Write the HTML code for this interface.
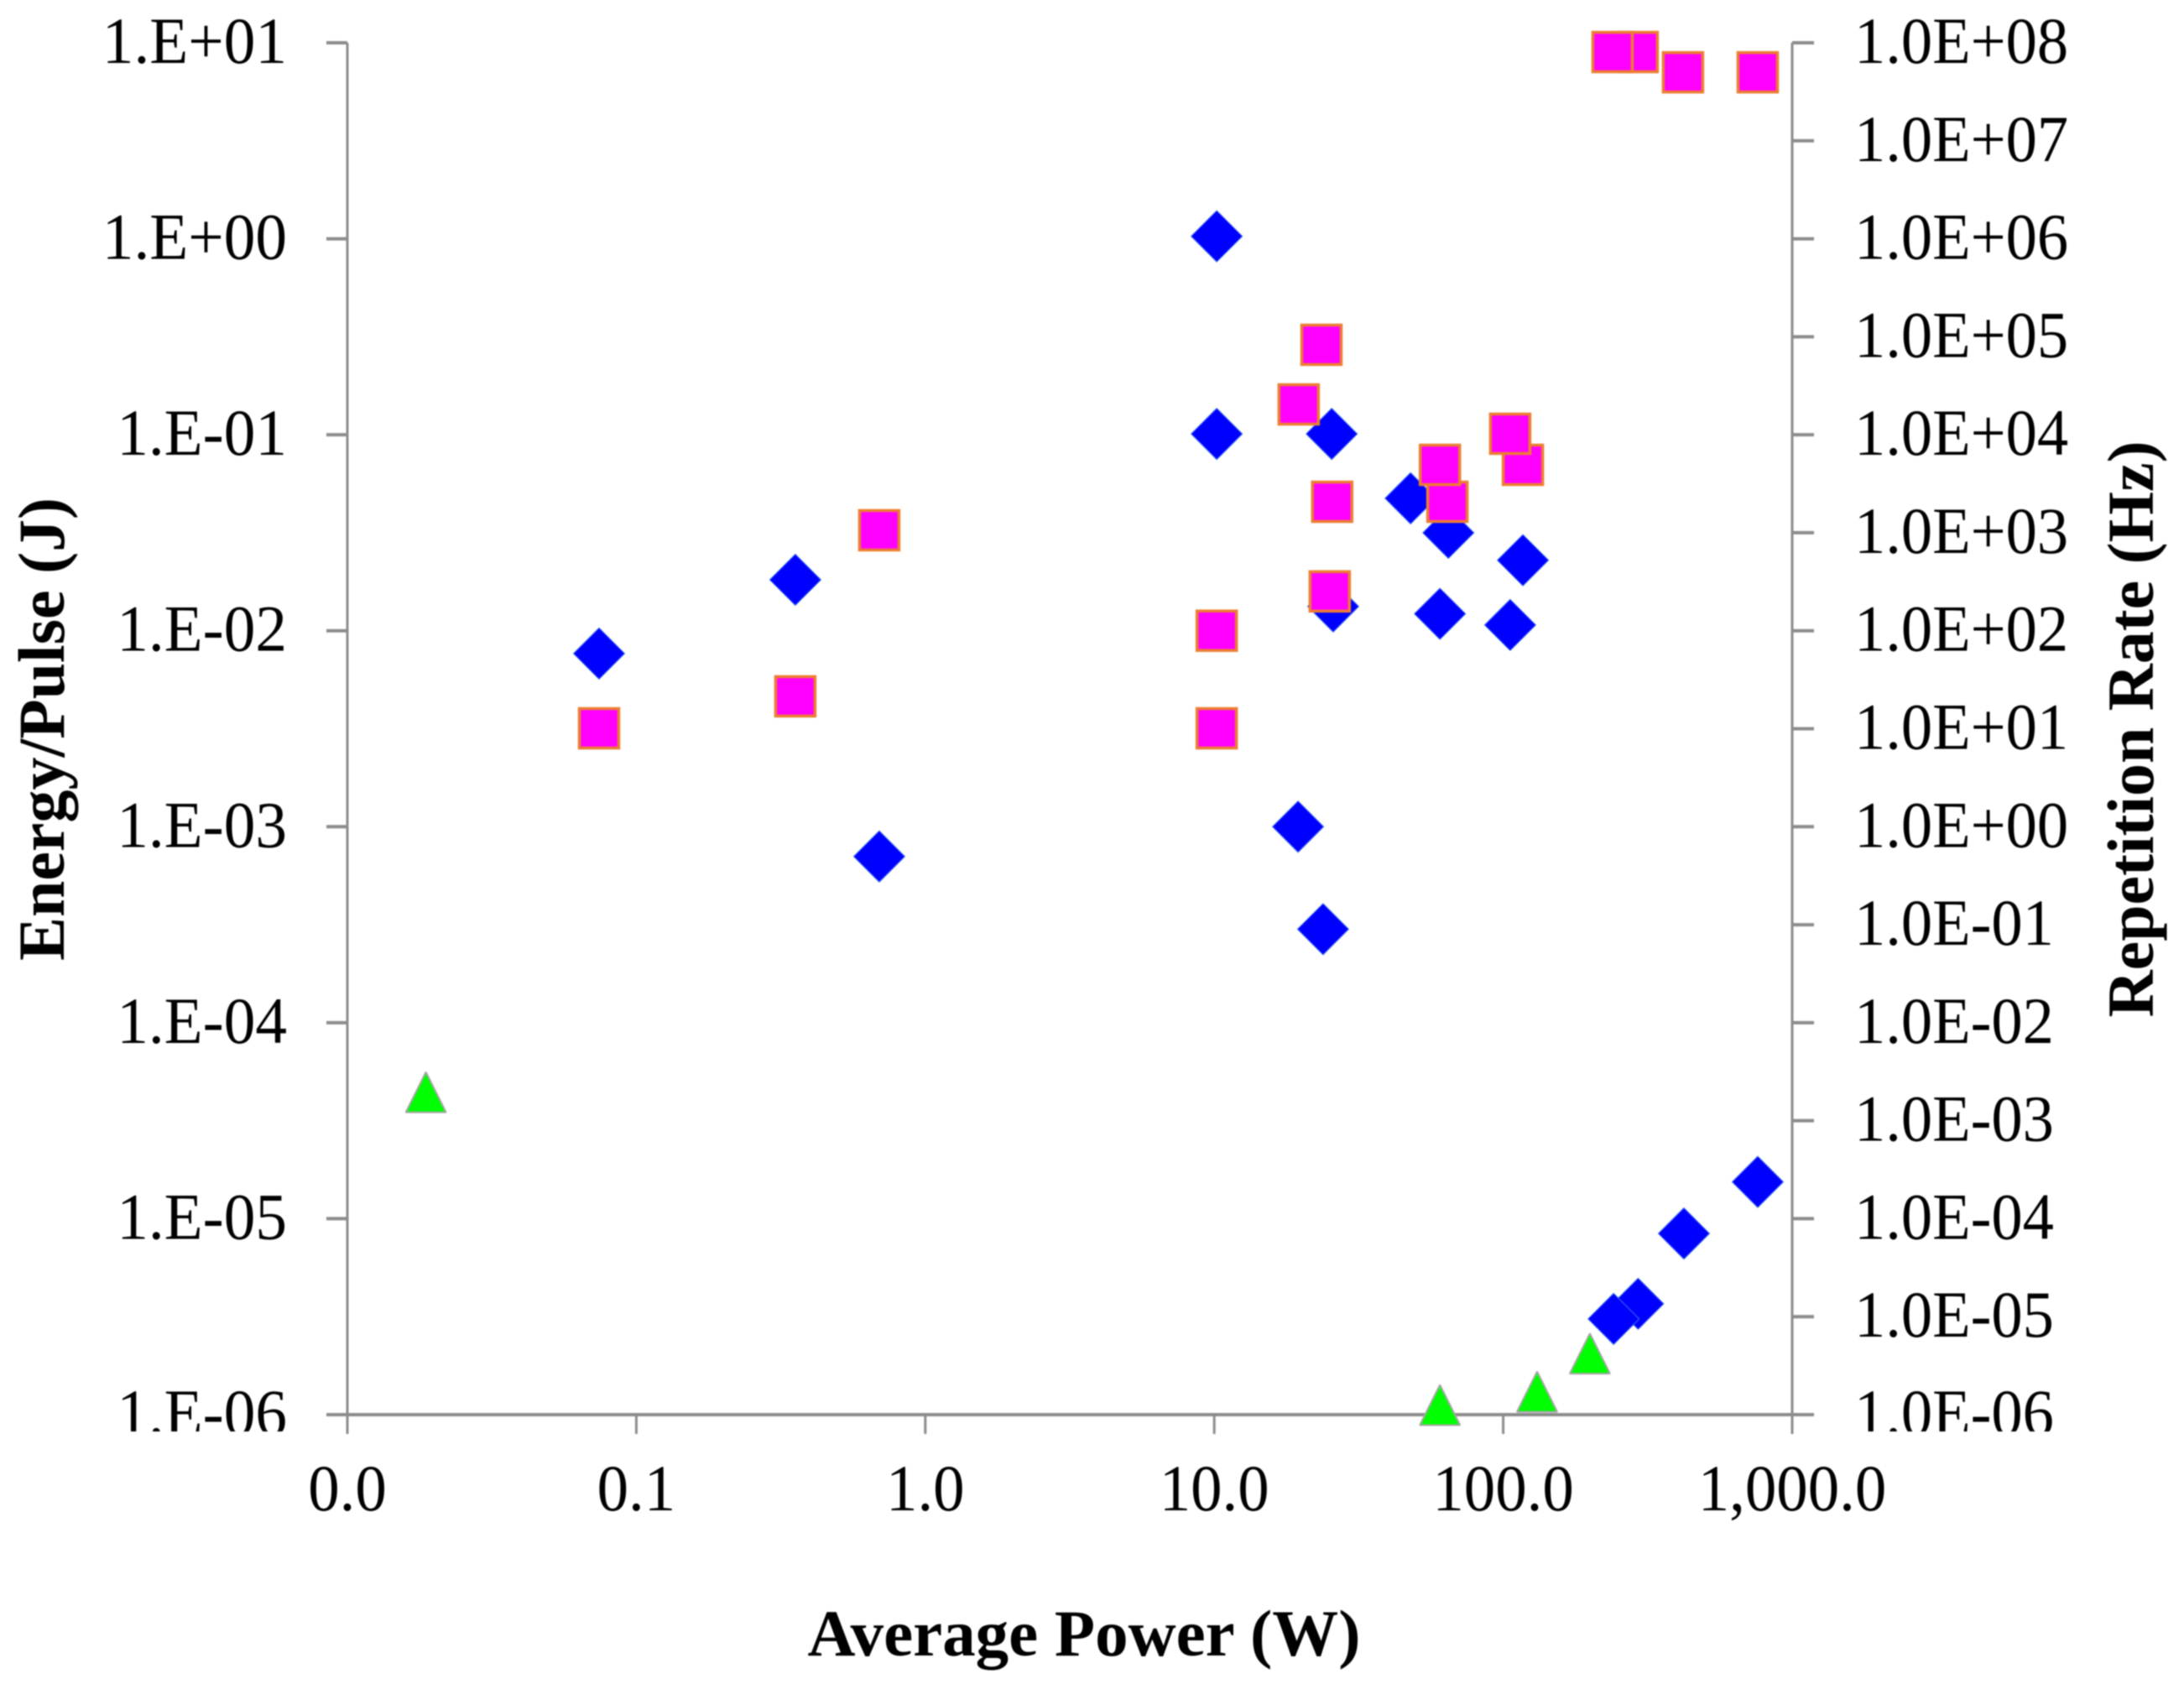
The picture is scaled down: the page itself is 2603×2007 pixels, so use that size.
<!DOCTYPE html>
<html>
<head>
<meta charset="utf-8">
<title>Energy per Pulse and Repetition Rate vs Average Power</title>
<style>
html,body{margin:0;padding:0;background:#fff;}
svg{display:block;filter:blur(0.9px);}
text{font-family:"Liberation Serif",serif;fill:#000;}
</style>
</head>
<body>
<svg id="chart" xmlns="http://www.w3.org/2000/svg" width="2603" height="2007" viewBox="0 0 2603 2007">
<rect x="0" y="0" width="2603" height="2007" fill="#fff"/>
<g id="ylabels"></g>
<rect x="0" y="1706" width="2603" height="39" fill="#fff"/>
<g id="axes"></g>
<g id="xlabels"></g>
<g id="marks"></g>
<text x="1292" y="1973" font-size="78" font-weight="bold" text-anchor="middle" textLength="659" lengthAdjust="spacingAndGlyphs">Average Power (W)</text>
<text transform="translate(76,869) rotate(-90)" font-size="78" font-weight="bold" text-anchor="middle" textLength="552" lengthAdjust="spacingAndGlyphs">Energy/Pulse (J)</text>
<text transform="translate(2566,869) rotate(-90)" font-size="78" font-weight="bold" text-anchor="middle" textLength="687" lengthAdjust="spacingAndGlyphs">Repetition Rate (Hz)</text>
</svg>
<script>
const xTickValues = [0.01, 0.1, 1, 10, 100, 1000];
const xTickLabels = ["0.0", "0.1", "1.0", "10.0", "100.0", "1,000.0"];
const leftTickValues = [10, 1, 0.1, 0.01, 0.001, 0.0001, 0.00001, 0.000001];
const leftTickLabels = ["1.E+01", "1.E+00", "1.E-01", "1.E-02", "1.E-03", "1.E-04", "1.E-05", "1.E-06"];
const rightTickValues = [1e8, 1e7, 1e6, 1e5, 1e4, 1e3, 1e2, 1e1, 1e0, 1e-1, 1e-2, 1e-3, 1e-4, 1e-5, 1e-6];
const rightTickLabels = ["1.0E+08", "1.0E+07", "1.0E+06", "1.0E+05", "1.0E+04", "1.0E+03", "1.0E+02", "1.0E+01", "1.0E+00", "1.0E-01", "1.0E-02", "1.0E-03", "1.0E-04", "1.0E-05", "1.0E-06"];

const energyPower = [760, 422, 293, 241, 117, 105.7, 64.6, 60.4, 47.8, 25.8, 25.5, 23.8, 19.5, 10.2, 10.2, 0.693, 0.355, 0.0743];
const energyValues = [1.54e-5, 8.4e-6, 3.68e-6, 3.08e-6, 0.0229, 0.0107, 0.0316, 0.0122, 0.0474, 0.0133, 0.101, 0.0003, 0.001, 0.101, 1.03, 0.000705, 0.0182, 0.00765];

const ratePower = [760, 419, 292, 239, 117, 105.7, 64.1, 60.4, 25.6, 25.1, 23.5, 19.6, 10.2, 10.2, 0.693, 0.355, 0.0743];
const rateValues = [5e7, 5e7, 8.05e7, 8.05e7, 4930, 10230, 2070, 4930, 2070, 252, 82800, 20400, 100, 10.1, 1060, 21.4, 10.1];

const shortPulsePower = [199.5, 131, 60.4, 0.0187];
const shortPulseEnergy = [2.05e-6, 1.31e-6, 1.12e-6, 4.42e-5];

const NS = "http://www.w3.org/2000/svg";
const plotLeft = 414, plotRight = 2136, plotTop = 51, plotBottom = 1686;
const axisColor = "#8c8c8c";
const axesGroup = document.getElementById("axes");
const yLabelGroup = document.getElementById("ylabels");
const xLabelGroup = document.getElementById("xlabels");
const marksGroup = document.getElementById("marks");

function xScale(v) {
  return plotLeft + (Math.log10(v) + 2) / 5 * (plotRight - plotLeft);
}
function leftScale(v) {
  return plotTop + (1 - Math.log10(v)) / 7 * (plotBottom - plotTop);
}
function rightScale(v) {
  return plotTop + (8 - Math.log10(v)) / 14 * (plotBottom - plotTop);
}
function makeLine(x1, y1, x2, y2, width) {
  const l = document.createElementNS(NS, "line");
  l.setAttribute("x1", x1);
  l.setAttribute("y1", y1);
  l.setAttribute("x2", x2);
  l.setAttribute("y2", y2);
  l.setAttribute("stroke", axisColor);
  l.setAttribute("stroke-width", width);
  return l;
}
function makeText(str, x, y, anchor) {
  const t = document.createElementNS(NS, "text");
  t.setAttribute("x", x);
  t.setAttribute("y", y);
  t.setAttribute("font-size", "78");
  t.setAttribute("text-anchor", anchor);
  t.textContent = str;
  return t;
}
function squeeze(t, factor) {
  t.setAttribute("textLength", (t.getComputedTextLength() * factor).toFixed(1));
  t.setAttribute("lengthAdjust", "spacingAndGlyphs");
}

const leftAxisLine = makeLine(plotLeft, plotTop, plotLeft, plotBottom + 23, 3);


axesGroup.appendChild(leftAxisLine);

const rightAxisLine = makeLine(plotRight, plotTop, plotRight, plotBottom + 23, 3);


axesGroup.appendChild(rightAxisLine);

const xAxisLine = makeLine(plotLeft, plotBottom, plotRight, plotBottom, 4);


axesGroup.appendChild(xAxisLine);

leftTickValues.forEach(function (v, i) {
  const y = leftScale(v);
  const tick = makeLine(plotLeft - 25, y, plotLeft, y, 4);
  
  
  axesGroup.appendChild(tick);
  const label = makeText(leftTickLabels[i], 342, y + 24, "end");
  
  
  yLabelGroup.appendChild(label);
  squeeze(label, 0.965);
});

rightTickValues.forEach(function (v, i) {
  const y = rightScale(v);
  const tick = makeLine(plotRight, y, plotRight + 26, y, 4);
  
  
  axesGroup.appendChild(tick);
  const label = makeText(rightTickLabels[i], 2210, y + 24, "start");
  
  
  yLabelGroup.appendChild(label);
  squeeze(label, 0.955);
});

xTickValues.forEach(function (v, i) {
  const x = xScale(v);
  const tick = makeLine(x, plotBottom, x, plotBottom + 23, 3);
  
  
  axesGroup.appendChild(tick);
  const label = makeText(xTickLabels[i], x, 1800, "middle");
  
  
  xLabelGroup.appendChild(label);
  squeeze(label, 0.96);
});

energyPower.forEach(function (p, i) {
  const cx = xScale(p), cy = leftScale(energyValues[i]), r = 30.5;
  const d = document.createElementNS(NS, "polygon");
  d.setAttribute("points", [cx, cy - r, cx + r, cy, cx, cy + r, cx - r, cy].join(" "));
  d.setAttribute("fill", "#0000ff");
  d.setAttribute("stroke", "#3b6cf0");
  d.setAttribute("stroke-width", "1");
  
  
  marksGroup.appendChild(d);
});

shortPulsePower.forEach(function (p, i) {
  const cx = xScale(p), cy = leftScale(shortPulseEnergy[i]), hw = 24, hh = 24;
  const t = document.createElementNS(NS, "polygon");
  t.setAttribute("points", [cx, cy - hh, cx + hw, cy + hh, cx - hw, cy + hh].join(" "));
  t.setAttribute("fill", "#00ff00");
  t.setAttribute("stroke", "#a6a6a6");
  t.setAttribute("stroke-width", "2");
  t.setAttribute("stroke-linejoin", "bevel");
  
  
  marksGroup.appendChild(t);
});

ratePower.forEach(function (p, i) {
  const cx = xScale(p), cy = rightScale(rateValues[i]), side = 47;
  const s = document.createElementNS(NS, "rect");
  s.setAttribute("x", cx - side / 2);
  s.setAttribute("y", cy - side / 2);
  s.setAttribute("width", side);
  s.setAttribute("height", side);
  s.setAttribute("fill", "#ff00ff");
  s.setAttribute("stroke", "#ed7d31");
  s.setAttribute("stroke-width", "3.5");
  
  
  marksGroup.appendChild(s);
});
</script>
</body>
</html>
